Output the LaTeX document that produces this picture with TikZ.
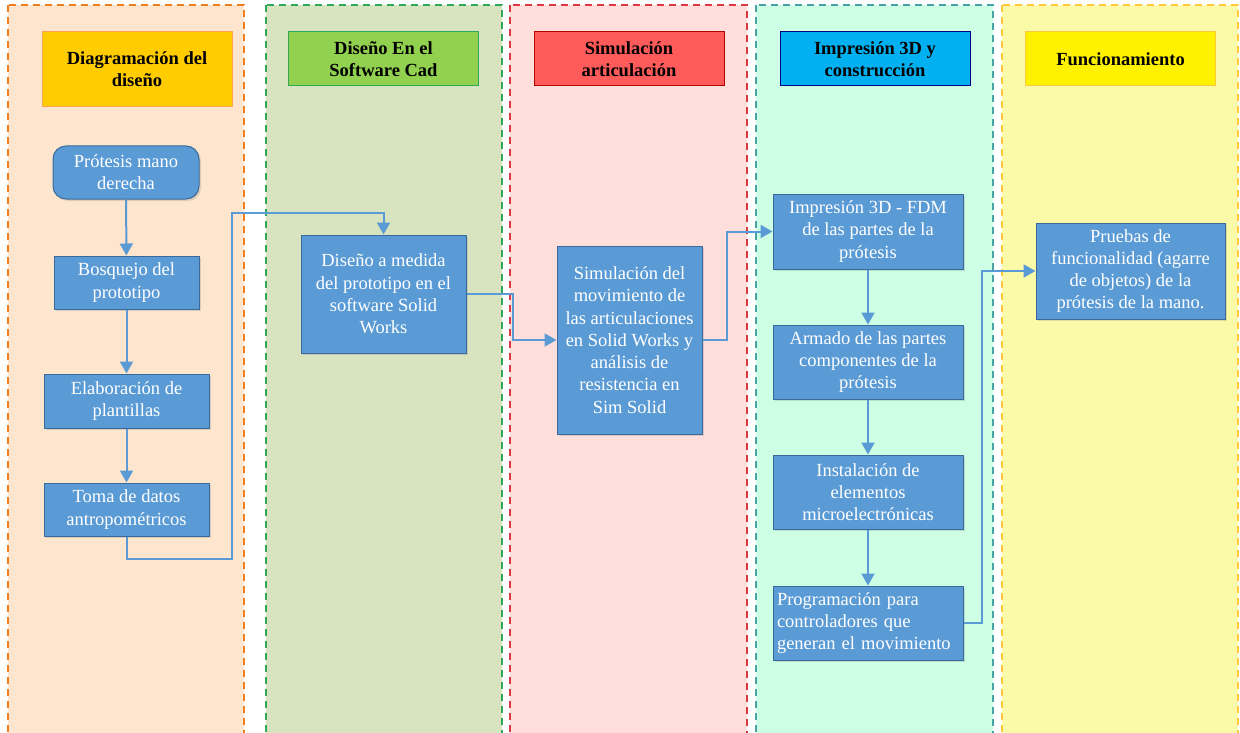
\documentclass[tikz,border=0pt]{standalone}
\usepackage{fontspec}
\setmainfont{Liberation Serif}
\usepackage{xcolor}
\usepackage{tikz}
\usetikzlibrary{arrows.meta,shadows}

\definecolor{laneOrange}{HTML}{FDE6CD}
\definecolor{laneGreen}{HTML}{D8E4BF}
\definecolor{lanePink}{HTML}{FFDEDB}
\definecolor{laneMint}{HTML}{CCFFE4}
\definecolor{laneYellow}{HTML}{FBFAA9}
\definecolor{edgeOrange}{HTML}{F07E1E}
\definecolor{edgeGreen}{HTML}{2FA85A}
\definecolor{edgeRed}{HTML}{D9383E}
\definecolor{edgeTeal}{HTML}{48A2A8}
\definecolor{edgeYellow}{HTML}{FFC83D}
\definecolor{stepBlue}{HTML}{5B9BD5}
\definecolor{stepEdge}{HTML}{3A6A9C}

\begin{document}
\begin{tikzpicture}[
    x=1pt, y=-1pt,
    lane/.style={draw=#1, line width=1.3pt, dash pattern=on 7pt off 5pt},
    head/.style={rectangle, draw=#1, line width=1pt, minimum width=190pt, align=center, font=\fontsize{18.5}{22}\selectfont\bfseries},
    stepbox/.style={rectangle, draw=stepEdge, fill=stepBlue, line width=1pt, align=center, text=white, inner sep=2pt,
        font=\fontsize{18.5}{22.3}\selectfont, drop shadow={opacity=0.25, shadow xshift=2pt, shadow yshift=-2pt}},
    arrow/.style={-{Triangle[width=13pt,length=12pt]}, line width=2pt, draw=stepBlue}
]
\useasboundingbox (0,0) rectangle (1240,733);

% Swim lanes
\draw[lane=edgeOrange, fill=laneOrange] (8,5) rectangle (244,745);
\draw[lane=edgeGreen, fill=laneGreen] (266,5) rectangle (502,745);
\draw[lane=edgeRed, fill=lanePink] (510,5) rectangle (747,745);
\draw[lane=edgeTeal, fill=laneMint] (756,5) rectangle (993,745);
\draw[lane=edgeYellow, fill=laneYellow] (1002,5) rectangle (1238,745);

% Lane headers
\node[head=orange!70, fill={rgb,255:red,255;green,204;blue,0}, minimum height=75pt] (h1) at (137,69.5) {Diagramación del\\diseño};
\node[head=edgeGreen, fill={rgb,255:red,146;green,208;blue,80}, minimum height=54pt] (h2) at (383.5,59) {Diseño En el\\Software Cad};
\node[head=red!70!black, fill={rgb,255:red,255;green,91;blue,91}, minimum height=54pt] (h3) at (629,59) {Simulación\\articulación};
\node[head=blue!50!black, fill={rgb,255:red,0;green,176;blue,240}, minimum height=54pt] (h4) at (875,59) {Impresión 3D y\\construcción};
\node[head=edgeYellow, fill=yellow, minimum height=54pt] (h5) at (1120.5,59) {Funcionamiento};

% Diagramacion steps
\node[stepbox, rounded corners=13pt, minimum width=146pt, minimum height=53pt] (protesis) at (126,172.5) {Prótesis mano\\derecha};
\node[stepbox, minimum width=145pt, minimum height=53pt] (bosquejo) at (126.5,282.5) {Bosquejo del\\prototipo};
\node[stepbox, minimum width=165pt, minimum height=54pt] (plantillas) at (126.5,401) {Elaboración de\\plantillas};
\node[stepbox, minimum width=165pt, minimum height=53pt] (datos) at (126.5,509.5) {Toma de datos\\antropométricos};

% CAD and simulation
\node[stepbox, minimum width=165pt, minimum height=118pt] (disenoCad) at (383.5,294) {Diseño a medida\\del prototipo en el\\software Solid\\Works};
\node[stepbox, minimum width=145pt, minimum height=188pt] (simulacion) at (629.5,340) {Simulación del\\movimiento de\\las articulaciones\\en Solid Works y\\análisis de\\resistencia en\\Sim Solid};

% Printing and assembly
\node[stepbox, minimum width=190pt, minimum height=75pt] (impresion) at (868,231.5) {Impresión 3D - FDM\\de las partes de la\\prótesis};
\node[stepbox, minimum width=190pt, minimum height=74pt] (armado) at (868,362) {Armado de las partes\\componentes de la\\prótesis};
\node[stepbox, minimum width=190pt, minimum height=74pt] (instalacion) at (868,492) {Instalación de\\elementos\\microelectrónicas};
\node[stepbox, minimum width=190pt, minimum height=74pt, text width=182pt, align=left] (programacion) at (868,623) {Programación para\\controladores que\\generan el movimiento};

% Tests
\node[stepbox, minimum width=189pt, minimum height=96pt] (pruebas) at (1130.5,271) {Pruebas de\\funcionalidad (agarre\\de objetos) de la\\prótesis de la mano.};

% Flow
\coordinate (salto) at (232,213);
\draw[arrow] (protesis) -- (bosquejo);
\draw[arrow] (bosquejo) -- (plantillas);
\draw[arrow] (plantillas) -- (datos);
\draw[arrow] (datos.south) -- ++(0,22) -| (salto) -| (disenoCad.north);
\draw[arrow] (disenoCad.east) -- ++(46,0) |- (simulacion.west);
\draw[arrow] (simulacion.east) -- ++(24,0) |- (impresion.west);
\draw[arrow] (impresion) -- (armado);
\draw[arrow] (armado) -- (instalacion);
\draw[arrow] (instalacion) -- (programacion);
\draw[arrow] (programacion.east) -- ++(18,0) |- (pruebas.west);

\end{tikzpicture}
\end{document}
